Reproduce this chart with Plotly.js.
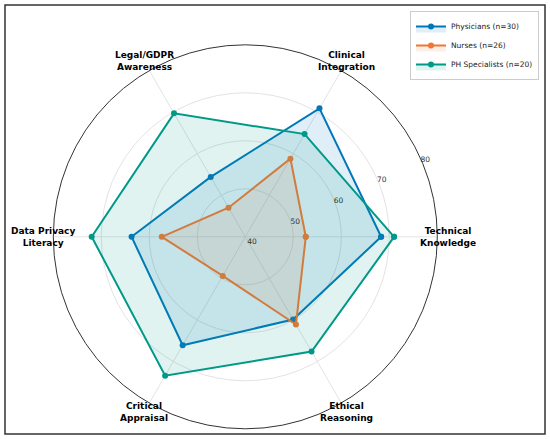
<!DOCTYPE html>
<html>
<head>
<meta charset="utf-8">
<script src="https://cdn.plot.ly/plotly-3.0.1.min.js"></script>
<style>html,body{margin:0;padding:0;background:#fff;}#chart{width:550px;height:439px;}</style>
</head>
<body>
<div id="chart"></div>
<script>
const categories = ["Technical Knowledge", "Clinical Integration", "Legal/GDPR Awareness", "Data Privacy Literacy", "Critical Appraisal", "Ethical Reasoning"];
const categoryLabels = ["<b>Technical<br>Knowledge</b>", "<b>Clinical<br>Integration</b>", "<b>Legal/GDPR<br>Awareness</b>", "<b>Data Privacy<br>Literacy</b>", "<b>Critical<br>Appraisal</b>", "<b>Ethical<br>Reasoning</b>"];
const seriesNames = ["Physicians (n=30)", "Nurses (n=26)", "PH Specialists (n=20)"];
const physicians = [68.3, 70.9, 54.4, 63.7, 66.1, 59.9];
const nurses = [52.6, 58.8, 47.0, 57.4, 49.4, 61.1];
const phSpecialists = [71.0, 64.7, 69.7, 72.0, 73.4, 67.6];
const radialTicks = [40, 50, 60, 70, 80];

const colors = ["#0077BB", "#EE7733", "#009988"];
const fills = ["rgba(0,119,187,0.12)", "rgba(238,119,51,0.12)", "rgba(0,153,136,0.12)"];
const seriesValues = [physicians, nurses, phSpecialists];

const W = 550, H = 439;
const CX = 245.3, CY = 236.8, RAD = 192;   // polar centre and radius in px
const LABEL_DIST = 202.5;                   // label distance from centre in px
const RAD_LABEL_ANGLE = 25.5;

const closed = arr => arr.concat([arr[0]]);

const traces = seriesValues.map((vals, i) => ({
  type: "scatterpolar",
  mode: "lines+markers",
  r: closed(vals),
  theta: closed(categories),
  name: seriesNames[i],
  line: {color: colors[i], width: 2},
  marker: {color: colors[i], size: 6},
  fill: "toself",
  fillcolor: fills[i],
  hoverinfo: "skip"
}));

const labelAnnotations = categoryLabels.map((txt, i) => {
  const a = i * 2 * Math.PI / categories.length;
  return {
    xref: "paper", yref: "paper",
    x: (CX + LABEL_DIST * Math.cos(a)) / W,
    y: 1 - (CY - LABEL_DIST * Math.sin(a)) / H,
    xanchor: "center", yanchor: "middle",
    text: txt, showarrow: false,
    font: {family: "DejaVu Sans", size: 9, color: "#000"}
  };
});

const layout = {
  width: W,
  height: H,
  margin: {l: 0, r: 0, t: 0, b: 0},
  paper_bgcolor: "#fff",
  font: {family: "DejaVu Sans", color: "#222"},
  showlegend: true,
  polar: {
    domain: {x: [(CX - RAD)/W, (CX + RAD)/W], y: [1 - (CY + RAD)/H, 1 - (CY - RAD)/H]},
    bgcolor: "#fff",
    radialaxis: {
      range: [40, 80],
      tickvals: radialTicks,
      ticktext: radialTicks.map(String),
      angle: RAD_LABEL_ANGLE,
      tickangle: RAD_LABEL_ANGLE,
      showline: false,
      ticks: "",
      gridcolor: "#e3e3e3",
      gridwidth: 1,
      tickfont: {family: "DejaVu Sans", size: 7.5, color: "#333"}
    },
    angularaxis: {
      type: "category",
      categoryarray: categories,
      rotation: 0,
      direction: "counterclockwise",
      showticklabels: false,
      ticks: "",
      showline: true,
      linecolor: "#333",
      linewidth: 1,
      gridcolor: "#e3e3e3",
      gridwidth: 1
    }
  },
  legend: {
    x: 539/W, xanchor: "right",
    y: 1 - 11/H, yanchor: "top",
    bgcolor: "#fff",
    bordercolor: "#cccccc",
    borderwidth: 1,
    font: {family: "DejaVu Sans", size: 7.5, color: "#222"},
    itemwidth: 30,
    tracegroupgap: 0
  },
  annotations: labelAnnotations,
  shapes: [{
    type: "rect", xref: "paper", yref: "paper",
    x0: 5/W, x1: 545/W, y0: 5/H, y1: 434/H,
    line: {color: "#333", width: 1.5},
    fillcolor: "rgba(0,0,0,0)"
  }]
};

Plotly.newPlot("chart", traces, layout, {displayModeBar: false, staticPlot: true});
</script>
</body>
</html>
